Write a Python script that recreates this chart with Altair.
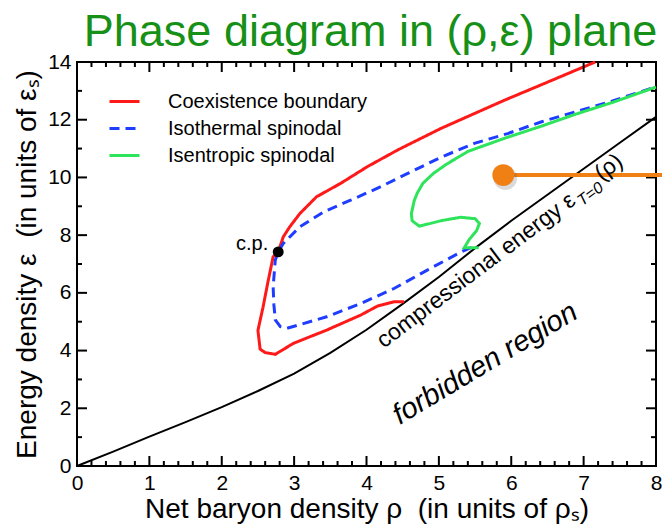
import altair as alt
import pandas as pd

# T=0 compressional energy curve eps_{T=0}(rho)
rho_t0 = [0, 0.5, 1, 1.5, 2, 2.5, 3, 3.5, 4, 4.5, 5, 5.5, 6, 6.5, 7, 7.5, 8]
eps_t0 = [0, 0.5, 1.02, 1.52, 2.04, 2.6, 3.2, 3.92, 4.72, 5.62, 6.55, 7.55, 8.5, 9.4, 10.3, 11.2, 12.1]

# coexistence boundary (ordered along the curve)
coex_rho = [4.52, 4.38, 4.15, 3.92, 3.45, 2.99, 2.74, 2.6, 2.53, 2.5, 2.57, 2.64, 2.71,
            2.78, 2.85, 2.94, 3.08, 3.31, 3.64, 4.01, 4.43, 5.03, 5.91, 6.5, 7.16]
coex_eps = [5.69, 5.69, 5.54, 5.23, 4.71, 4.25, 3.87, 3.93, 4.05, 4.7, 5.5, 6.4, 7.25,
            7.42, 7.94, 8.29, 8.75, 9.33, 9.79, 10.37, 10.95, 11.7, 12.68, 13.3, 14.0]

# isothermal spinodal
isoT_rho = [5.45, 5.31, 4.84, 4.38, 3.92, 3.45, 2.9, 2.81, 2.74, 2.72, 2.71, 2.74, 2.78,
            2.85, 3.08, 3.41, 3.78, 4.19, 4.57, 5.03, 5.49, 5.95, 6.42, 6.88, 7.4, 8.0]
isoT_eps = [7.58, 7.42, 6.79, 6.15, 5.63, 5.17, 4.77, 4.83, 5.06, 5.6, 6.21, 7.14, 7.42,
            7.71, 8.29, 8.81, 9.21, 9.67, 10.14, 10.7, 11.18, 11.52, 11.93, 12.27, 12.65, 13.14]

# isentropic spinodal
isoS_rho = [5.55, 5.35, 5.42, 5.52, 5.56, 5.5, 5.3, 5.03, 4.73, 4.63, 4.62, 4.66, 4.7,
            4.78, 4.93, 5.1, 5.4, 5.9, 6.42, 6.9, 7.4, 8.0]
isoS_eps = [7.56, 7.56, 7.85, 8.15, 8.4, 8.57, 8.62, 8.5, 8.31, 8.5, 8.75, 9.2, 9.45,
            9.8, 10.15, 10.45, 10.9, 11.35, 11.78, 12.2, 12.6, 13.13]

series_names = ["Coexistence boundary", "Isothermal spinodal", "Isentropic spinodal"]
series_colors = ["#ff1a1a", "#1f3dff", "#2ee45a"]
series_dash = [[1, 0], [10, 6], [1, 0]]

# critical point
cp_rho = [2.78]
cp_eps = [7.42]

# orange marker
marker_rho = [5.89]
marker_eps = [10.08]
marker_end = [8.1]

# tick positions
x_major = list(range(0, 9))
x_minor = [round(k * 0.2, 1) for k in range(0, 41) if k % 5]
y_major = list(range(0, 15, 2))
y_minor = list(range(1, 15, 2))

# annotation anchors (data coords) and texts
ann_comp = {"rho": [4.24], "eps": [4.06], "text": ["compressional energy ε"]}
ann_sub = {"rho": [6.98], "eps": [8.99], "text": ["T=0"]}
ann_arg = {"rho": [7.25], "eps": [9.86], "text": ["(ρ)"]}
ann_forb = {"rho": [4.46], "eps": [1.42], "text": ["forbidden region"]}

FONT = "Liberation Sans"
W, H = 579, 404
MAJ, MIN = 10, 5
NBSP = "\u00a0"

df_t0 = pd.DataFrame({"rho": rho_t0, "eps": eps_t0, "i": range(len(rho_t0))})
frames = []
for name, r, e in [(series_names[0], coex_rho, coex_eps),
                   (series_names[1], isoT_rho, isoT_eps),
                   (series_names[2], isoS_rho, isoS_eps)]:
    frames.append(pd.DataFrame({"rho": r, "eps": e, "series": name, "i": range(len(r))}))
df_s = pd.concat(frames, ignore_index=True)
df_cp = pd.DataFrame({"rho": cp_rho, "eps": cp_eps})
df_m = pd.DataFrame({"rho": marker_rho, "eps": marker_eps, "rho2": marker_end})

xs = alt.Scale(domain=[0, 8], nice=False, zero=False)
ys = alt.Scale(domain=[0, 14], nice=False, zero=False)

ax_x = alt.Axis(values=x_major, ticks=False, tickSize=0, domain=False, grid=False,
                labelPadding=6, labelFontSize=21, labelFlush=False, labelOverlap=False,
                format="d", labelFont=FONT, labelColor="black",
                title=f"Net baryon density ρ{NBSP} (in units of ρₛ)", titleFont=FONT,
                titleFontSize=28, titleFontWeight="normal", titleColor="black", titlePadding=2)
ax_y = alt.Axis(values=y_major, ticks=False, tickSize=0, domain=False, grid=False,
                labelPadding=6, labelFontSize=21, labelFlush=False, labelOverlap=False,
                format="d", labelFont=FONT, labelColor="black",
                title=f"Energy density ε{NBSP} (in units of εₛ)", titleFont=FONT,
                titleFontSize=28, titleFontWeight="normal", titleColor="black", titlePadding=6)


def X(field="rho"):
    return alt.X(f"{field}:Q", scale=xs, axis=ax_x)


def Y(field="eps"):
    return alt.Y(f"{field}:Q", scale=ys, axis=ax_y)


black = alt.Chart(df_t0).mark_line(color="black", strokeWidth=2).encode(
    x=X(), y=Y(), order="i:Q")

legend_kw = dict(title=None, orient="none", legendX=31, legendY=23, symbolType="stroke",
                 symbolSize=900, symbolStrokeWidth=3, labelFontSize=20, labelFont=FONT,
                 labelColor="black", labelOffset=27, labelLimit=0, padding=0, rowPadding=0)

curves = alt.Chart(df_s).mark_line(strokeWidth=3).encode(
    x=X(), y=Y(), order="i:Q",
    color=alt.Color("series:N", scale=alt.Scale(domain=series_names, range=series_colors),
                    legend=alt.Legend(**legend_kw)),
    strokeDash=alt.StrokeDash("series:N", scale=alt.Scale(domain=series_names, range=series_dash),
                              legend=alt.Legend(**legend_kw)),
)


# inward frame ticks on all four sides
def xticks(vals, length):
    d = pd.DataFrame({"rho": vals})
    bottom = alt.Chart(d).mark_rule(color="black", strokeWidth=2).encode(
        x=X(), y=alt.value(H), y2=alt.value(H - length))
    top = alt.Chart(d).mark_rule(color="black", strokeWidth=2).encode(
        x=X(), y=alt.value(0), y2=alt.value(length))
    return [bottom, top]


def yticks(vals, length):
    d = pd.DataFrame({"eps": vals})
    left = alt.Chart(d).mark_rule(color="black", strokeWidth=2).encode(
        y=Y(), x=alt.value(0), x2=alt.value(length))
    right = alt.Chart(d).mark_rule(color="black", strokeWidth=2).encode(
        y=Y(), x=alt.value(W), x2=alt.value(W - length))
    return [left, right]


ticks = xticks(x_major, MAJ) + xticks(x_minor, MIN) + yticks(y_major, MAJ) + yticks(y_minor, MIN)

cp = alt.Chart(df_cp).mark_circle(color="black", size=120, opacity=1).encode(x=X(), y=Y())

cp_label = alt.Chart(df_cp).mark_text(text="c.p.", align="right", baseline="middle",
                                      dx=-10, dy=-8, fontSize=20, font=FONT, color="black").encode(
    x=X(), y=Y())

orange_line = alt.Chart(df_m).mark_rule(color="#f07f14", strokeWidth=4, clip=False).encode(
    x=X(), x2="rho2:Q", y=Y())

shadow = alt.Chart(df_m).mark_circle(color="#555555", size=560, opacity=0.22,
                                     xOffset=2, yOffset=3).encode(x=X(), y=Y())

orange_dot = alt.Chart(df_m).mark_circle(color="#f07f14", size=480, opacity=1).encode(x=X(), y=Y())


def label(d, size, angle, style="normal"):
    return alt.Chart(pd.DataFrame(d)).mark_text(
        align="left", baseline="alphabetic", angle=angle, fontSize=size, font=FONT,
        fontStyle=style, color="black").encode(x=X(), y=Y(), text="text:N")


texts = [
    label(ann_comp, 23, 323),
    label(ann_sub, 16, 323, "italic"),
    label(ann_arg, 23, 323),
    label(ann_forb, 29, 329, "italic"),
]

chart = alt.layer(black, curves, *ticks, orange_line, shadow, orange_dot, cp, cp_label, *texts).properties(
    width=W, height=H,
    title=alt.TitleParams("Phase diagram in (ρ,ε) plane", fontSize=45, font=FONT,
                          fontWeight="normal", color="#169016", anchor="middle", offset=-4, dx=4),
    padding={"left": 77, "top": 62, "right": 6, "bottom": 60},
    autosize=alt.AutoSizeParams(type="none"),
    background="white",
).configure_view(stroke="black", strokeWidth=2)

chart.save("out.html", embed_options={"renderer": "svg", "actions": False})
